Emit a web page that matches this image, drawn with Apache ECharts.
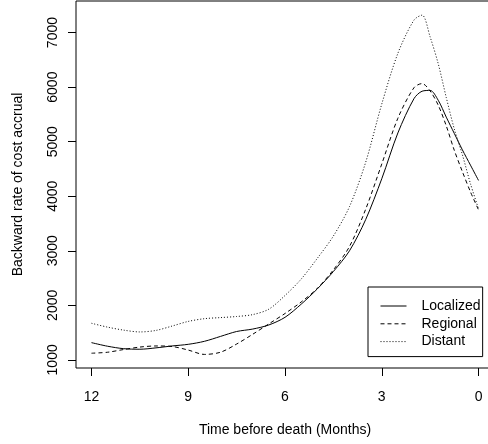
<!DOCTYPE html>
<html>
<head>
<meta charset="utf-8">
<script src="https://cdn.jsdelivr.net/npm/echarts@6/dist/echarts.min.js"></script>
<style>
  html, body { margin: 0; padding: 0; background: #fff; }
  #chart { width: 488px; height: 444px; }
</style>
</head>
<body>
<div id="chart"></div>
<script>
// months before death (x) and the three fitted curves
const months = [12, 11.5, 11, 10.5, 10, 9.5, 9, 8.5, 8, 7.5, 7, 6.5, 6, 5.5, 5, 4.5, 4, 3.5, 3, 2.5, 2, 1.75, 1.5, 1.25, 1, 0.75, 0.5, 0.25, 0];
const localized = [1316, 1250, 1205, 1195, 1220, 1255, 1285, 1340, 1430, 1520, 1565, 1640, 1780, 2020, 2300, 2620, 3000, 3570, 4320, 5160, 5790, 5925, 5940, 5760, 5450, 5150, 4850, 4570, 4290];
const regional = [1122, 1140, 1190, 1235, 1255, 1245, 1180, 1100, 1140, 1290, 1470, 1660, 1850, 2060, 2310, 2650, 3080, 3760, 4590, 5430, 5990, 6065, 5930, 5670, 5290, 4840, 4450, 4080, 3750];
const distant = [1671, 1600, 1545, 1512, 1540, 1620, 1705, 1755, 1775, 1795, 1830, 1930, 2180, 2480, 2860, 3270, 3810, 4620, 5690, 6620, 7230, 7320, 6920, 6430, 5810, 5230, 4760, 4230, 3770];

const xTicks = [0, 3, 6, 9, 12];
const yTicks = [1000, 2000, 3000, 4000, 5000, 6000, 7000];
const seriesNames = ['Localized', 'Regional', 'Distant'];

const FONT = "'Liberation Sans', Arial, Helvetica, sans-serif";

function pairs(ys) {
  return months.map((m, i) => [m, ys[i]]);
}

function lineSeries(name, ys, dash) {
  return {
    name: name,
    type: 'line',
    data: pairs(ys),
    smooth: 0.3,
    showSymbol: false,
    symbol: 'none',
    itemStyle: { color: '#000' },
    lineStyle: { color: '#000', width: 1, type: dash }
  };
}

const chart = echarts.init(document.getElementById('chart'), null, { renderer: 'canvas' });
chart.setOption({
  animation: false,
  backgroundColor: '#fff',
  textStyle: { fontFamily: FONT },
  grid: {
    left: 76, top: 1, width: 418, height: 367,
    outerBoundsMode: 'none',
    containLabel: false,
    show: true, borderColor: '#000', borderWidth: 1, backgroundColor: 'transparent'
  },
  legend: {
    data: seriesNames,
    orient: 'vertical',
    left: 368, top: 287,
    itemWidth: 26, itemHeight: 14, itemGap: 3.8,
    padding: [12, 2, 8, 12],
    borderColor: '#000', borderWidth: 1, borderRadius: 0,
    itemStyle: { color: 'rgba(0,0,0,0)', borderWidth: 0, opacity: 0 },
    lineStyle: { width: 1, color: '#000' },
    textStyle: { fontSize: 14, color: '#000', fontFamily: FONT, padding: [0, 0, 0, 10] }
  },
  xAxis: {
    type: 'value',
    inverse: true,
    min: -0.48, max: 12.48,
    name: 'Time before death (Months)',
    nameLocation: 'middle',
    nameGap: 55,
    nameTextStyle: { fontSize: 14, color: '#000', fontFamily: FONT },
    axisLine: { show: false, onZero: false },
    splitLine: { show: false },
    axisTick: { show: true, inside: false, length: 8, customValues: xTicks, lineStyle: { color: '#000' } },
    axisLabel: { customValues: xTicks, margin: 22, fontSize: 14, color: '#000', fontFamily: FONT, formatter: v => String(v) }
  },
  yAxis: {
    type: 'value',
    min: 851, max: 7579,
    name: 'Backward rate of cost accrual',
    nameLocation: 'middle',
    nameGap: 51,
    nameTextStyle: { fontSize: 14, color: '#000', fontFamily: FONT },
    axisLine: { show: false, onZero: false },
    splitLine: { show: false },
    axisTick: { show: true, inside: false, length: 8, customValues: yTicks, lineStyle: { color: '#000' } },
    axisLabel: { customValues: yTicks, rotate: 90, margin: 16, fontSize: 14, color: '#000', fontFamily: FONT, formatter: v => String(v) }
  },
  series: [
    lineSeries('Localized', localized, 'solid'),
    lineSeries('Regional', regional, [4, 3]),
    lineSeries('Distant', distant, [1, 2])
  ]
});
</script>
</body>
</html>
